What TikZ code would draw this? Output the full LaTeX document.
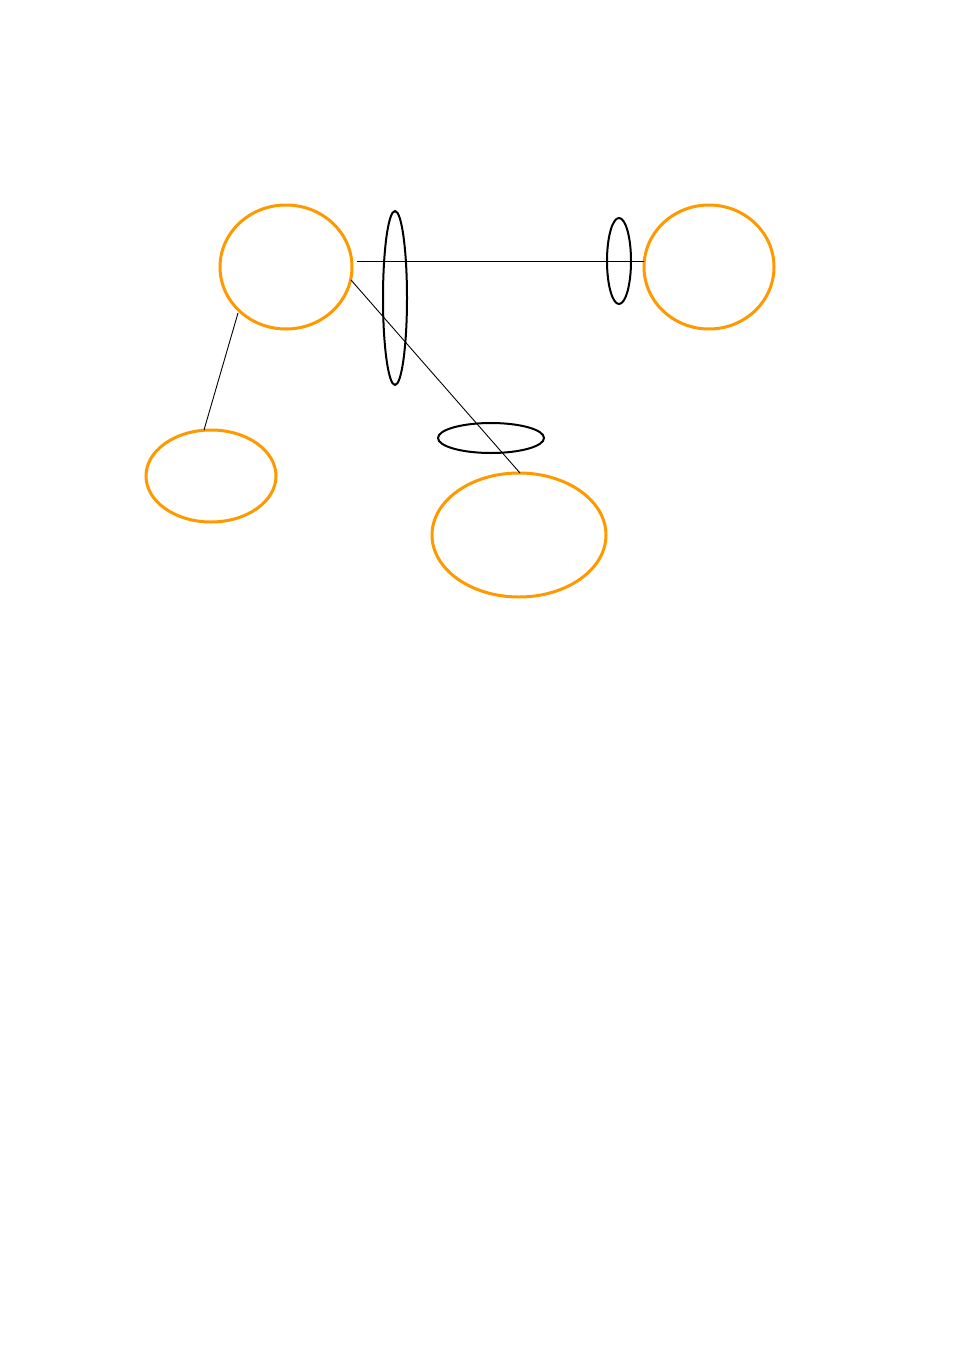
\documentclass[tikz,border=0pt]{standalone}
\usetikzlibrary{shapes.geometric}
\definecolor{nodeorange}{RGB}{255,153,0}
\begin{document}
\begin{tikzpicture}[x=1pt,y=-1pt,
  bubble/.style={draw=nodeorange,line width=3pt,ellipse,inner sep=0pt,outer sep=0pt},
  ring/.style={draw=black,line width=2pt,ellipse,inner sep=0pt,outer sep=0pt},
  link/.style={draw=black,line width=0.9pt}]
\fill[white] (0,0) rectangle (954,1349);
\useasboundingbox (0,0) rectangle (954,1349);
% orange nodes
\node[bubble,minimum width=132pt,minimum height=124pt] (A) at (286,267) {};
\node[bubble,minimum width=130pt,minimum height=124pt] (B) at (709,267) {};
\node[bubble,minimum width=130pt,minimum height=92pt] (C) at (211,476) {};
\node[bubble,minimum width=174pt,minimum height=124pt] (D) at (519,535) {};
% black rings
\node[ring,minimum width=24pt,minimum height=174pt] (E1) at (395,298) {};
\node[ring,minimum width=24pt,minimum height=86pt] (E2) at (619,261) {};
\node[ring,minimum width=106pt,minimum height=30pt] (E3) at (491,438) {};
% connector ends
\coordinate (a1) at (357,261);
\coordinate (b1) at (644,261);
\coordinate (a2) at (351,280);
\coordinate (d2) at (520,473);
\coordinate (a3) at (238,313);
\coordinate (c3) at (204,430);
\draw[link] (a1) -- (b1);
\draw[link] (a2) -- (d2);
\draw[link] (a3) -- (c3);
\end{tikzpicture}
\end{document}
